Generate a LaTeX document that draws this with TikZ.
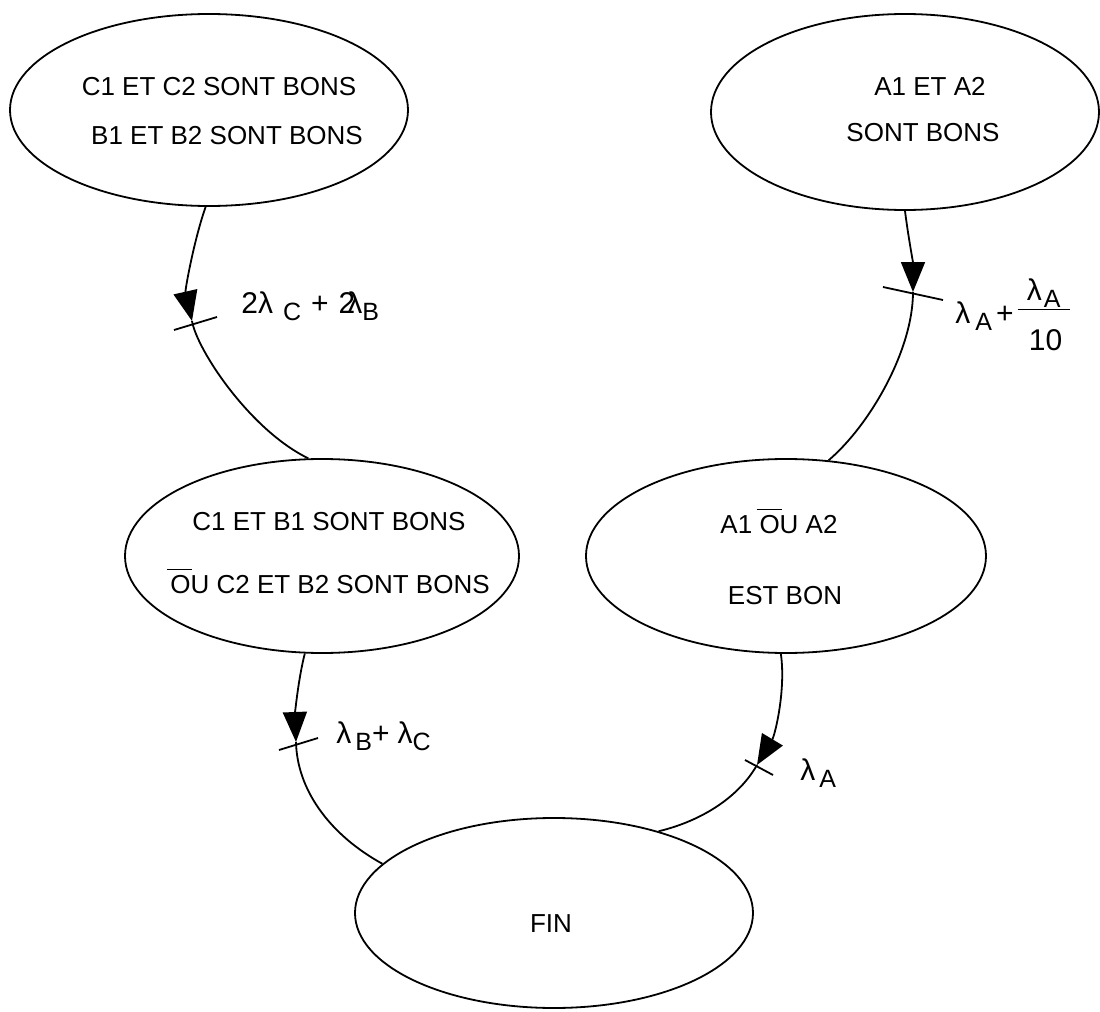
\documentclass[tikz,border=0pt]{standalone}
\usepackage{fontspec}
\setmainfont{Liberation Sans}
\usetikzlibrary{shapes.geometric,arrows.meta}
\tikzset{
  stbox/.style={draw, ellipse, line width=0.9pt, inner sep=0pt},
  txt/.style={anchor=base, inner sep=0pt, font=\fontsize{13}{15}\selectfont},
  lbl/.style={anchor=base west, inner sep=0pt, font=\fontsize{15}{17}\selectfont},
  trline/.style={line width=0.9pt},
  arr/.style={trline, -{Triangle[length=15pt,width=12pt]}},
}
\newcommand\sbs[1]{\raisebox{-3.5pt}{\fontsize{12.5}{14}\selectfont #1}}
\newcommand\ob{\rlap{\kern-1.5pt\raisebox{11.5pt}{\rule{12.5pt}{0.5pt}}}O}
\newcommand\myfr{\raisebox{11.5pt}{\makebox[26pt]{λ\kern1pt\sbs{A}}}\llap{\raisebox{6.5pt}{\rule{26pt}{0.5pt}}}\llap{\raisebox{-13.5pt}{\makebox[24pt]{10}}}}
\begin{document}
\begin{tikzpicture}[x=0.5pt,y=-0.5pt]
\useasboundingbox (0,0) rectangle (1100,1012);
% states
\node[stbox, minimum width=199pt, minimum height=96pt] (tl) at (209,110) {};
\node[stbox, minimum width=194pt, minimum height=98pt] (tr) at (905,112) {};
\node[stbox, minimum width=197pt, minimum height=97pt] (ml) at (322,556) {};
\node[stbox, minimum width=200pt, minimum height=97pt] (mr) at (786,556) {};
\node[stbox, minimum width=199pt, minimum height=95pt] (fin) at (554,913) {};
% state texts
\node[txt] (tl1) at (219,95) {C1 ET C2 SONT BONS};
\node[txt] (tl2) at (227,144) {B1 ET B2 SONT BONS};
\node[txt] (tr1) at (930,96) {A1 ET A2};
\node[txt] (tr2) at (923,141) {SONT BONS};
\node[txt] (ml1) at (329,530) {C1 ET B1 SONT BONS};
\node[txt] (ml2) at (330,593) {\ob U C2 ET B2 SONT BONS};
\node[txt] (mr1) at (779,533) {A1 \ob U A2};
\node[txt] (mr2) at (785,604) {EST BON};
\node[txt] (fint) at (551,932) {FIN};
% arrow tips
\coordinate (ta) at (192,321);
\coordinate (tb) at (913,292);
\coordinate (tc) at (296,742);
\coordinate (td) at (757,765);
% connector A
\draw[arr] (tl.-92) .. controls (194,240) and (185,290) .. (ta);
\draw[trline] (ta) .. controls (197,350) and (250,430) .. (ml.98);
\draw[trline] ([shift={(-18,9)}]ta) -- ([shift={(25,-4)}]ta);
% connector B
\draw[arr] (tr.-90) .. controls (908,235) and (913,262) .. (tb);
\draw[trline] (tb) .. controls (913,350) and (870,425) .. (mr.66);
\draw[trline] ([shift={(-30,-5)}]tb) -- ([shift={(30,8)}]tb);
% connector C
\draw[arr] (ml.-100) .. controls (298,680) and (295,715) .. (tc);
\draw[trline] (tc) .. controls (297,790) and (330,835) .. (fin.164);
\draw[trline] ([shift={(-17,8)}]tc) -- ([shift={(22,-4)}]tc);
% connector D
\draw[arr] (mr.-93) .. controls (786,690) and (775,735) .. (td);
\draw[trline] (td) .. controls (740,795) and (705,820) .. (fin.38);
\draw[trline] ([shift={(-12,-5)}]td) -- ([shift={(16,10)}]td);
% rate labels
\node[lbl] (la) at (241,313) {2λ\kern5pt\sbs{C}\kern5pt+\kern5pt2\kern-4ptλ\sbs{B}};
\node[lbl] (lb) at (955,323) {λ\kern2.5pt\sbs{A}\kern2pt+\kern2pt\myfr};
\node[lbl] (lc) at (336,743) {λ\kern2pt\sbs{B}+\kern4ptλ\sbs{C}};
\node[lbl] (ld) at (800,780) {λ\kern2pt\sbs{A}};
\end{tikzpicture}
\end{document}
